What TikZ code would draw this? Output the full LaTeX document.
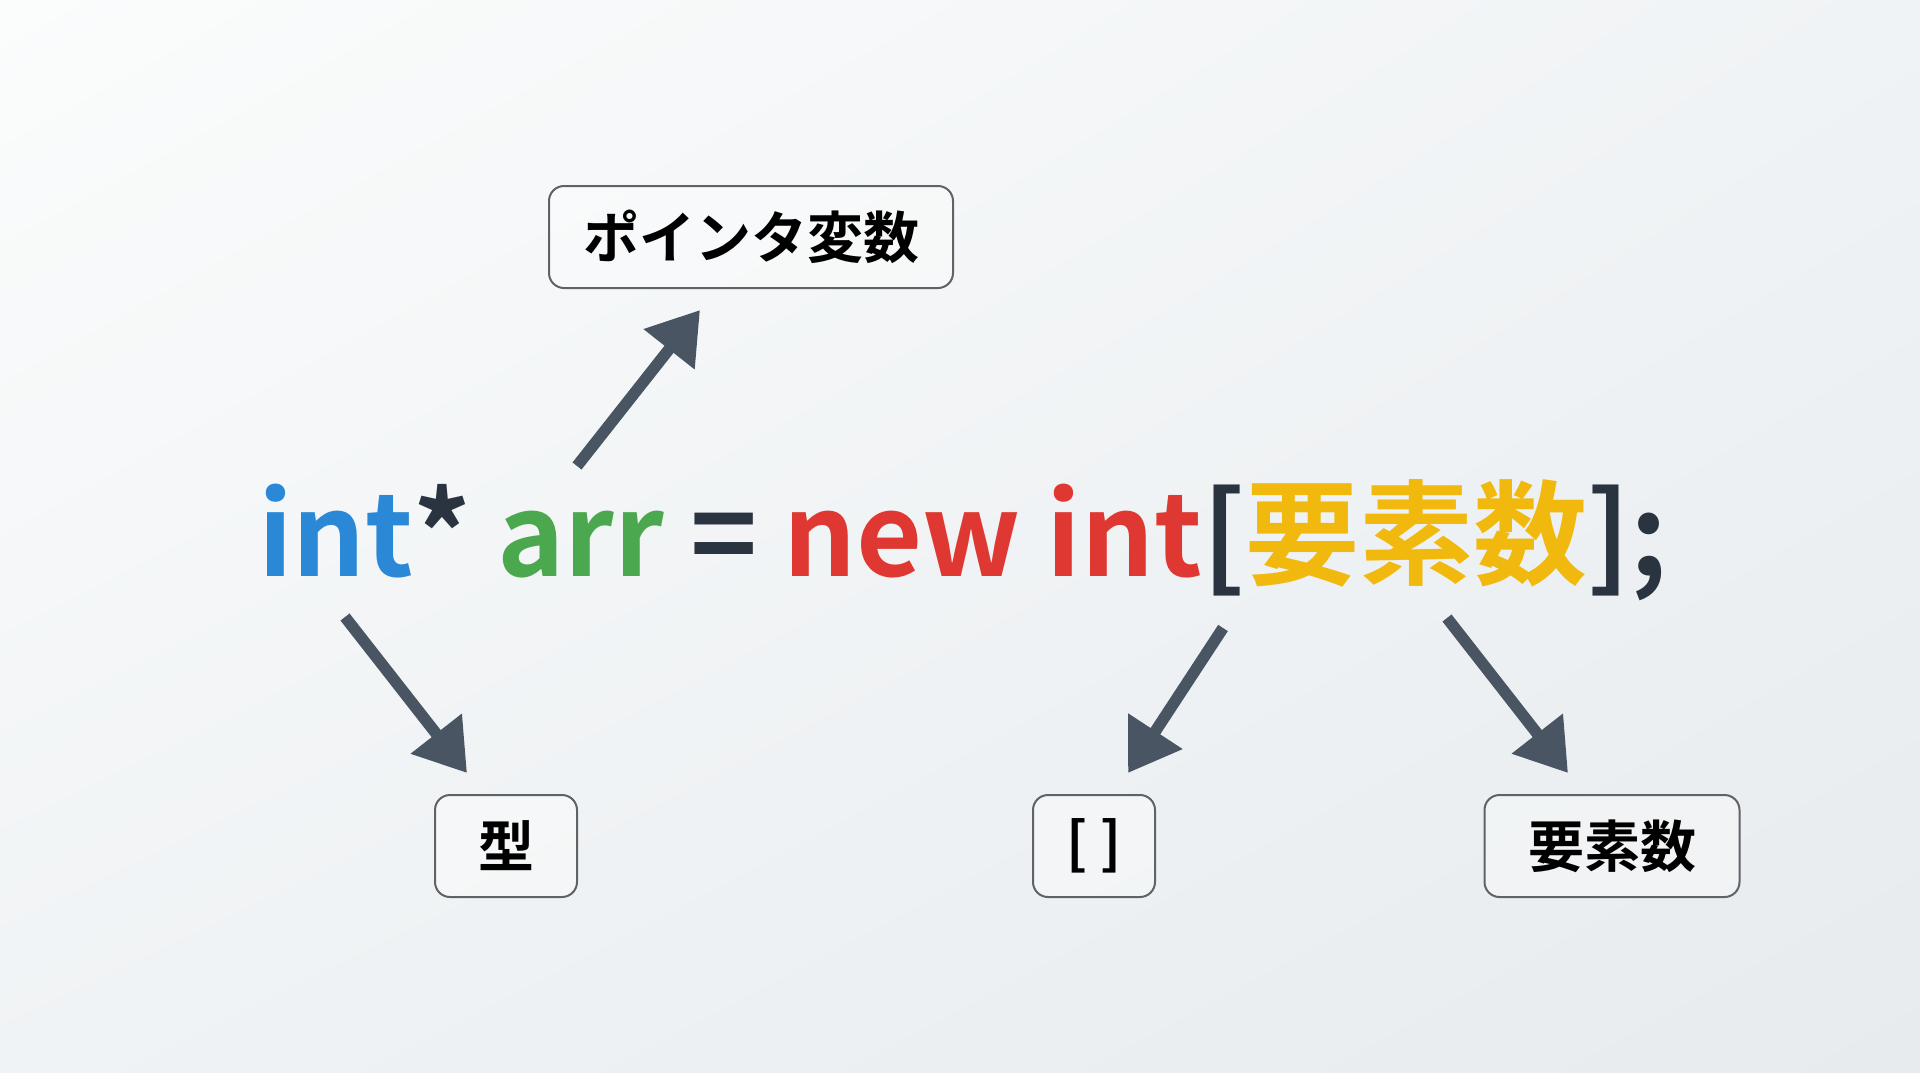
\documentclass[tikz,border=0pt]{standalone}
\usepackage{fontspec}
\setmainfont{Noto Sans CJK JP}[BoldFont={Noto Sans CJK JP Bold}]
\usetikzlibrary{arrows.meta,positioning,shadings}
\usepackage{xcolor}

\definecolor{cint}{HTML}{2A88D6}
\definecolor{carr}{HTML}{4BA84F}
\definecolor{cnew}{HTML}{DF3832}
\definecolor{ccount}{HTML}{F1B80E}
\definecolor{cdark}{HTML}{2A3440}
\definecolor{cline}{HTML}{4A5563}
\definecolor{cbox}{HTML}{5F6368}
\definecolor{bgtop}{HTML}{FBFCFC}
\definecolor{bgmid}{HTML}{F0F3F5}
\definecolor{bglow}{HTML}{E7EBEE}

\begin{document}
\begin{tikzpicture}[x=1pt,y=-1pt,
            tagbox/.style = {draw=cbox, line width=2pt, rounded corners=15pt,
                fill=white, fill opacity=0.35, text opacity=1,
                minimum height=102pt, inner sep=0pt,
                font=\fontsize{56}{60}\selectfont\bfseries},
            pointer/.style = {draw=cline, line width=11.5pt,
                -{Triangle[length=50pt,width=62pt]}},
            codeline/.style = {inner sep=0pt,
                font=\fontsize{114}{120}\selectfont\bfseries}
            ]
            % background
            \useasboundingbox (0,0) rectangle (1920,1072);
            \shade[upper left=bgtop, upper right=bgmid,
                lower left=bgmid, lower right=bglow]
                (0,0) rectangle (1920,1072);

            % the code line
            \node[codeline, anchor=base west] (code) at (258,576)
                {\textcolor{cint}{int}\textcolor{cdark}{*} \textcolor{carr}{arr} \textcolor{cdark}{=} \textcolor{cnew}{new int}\textcolor{cdark}{[}\textcolor{ccount}{要素数}\textcolor{cdark}{];}};

            % labels
            \node[tagbox, minimum width=404pt] (ptr) at (751,237) {ポインタ変数};
            \node[tagbox, minimum width=142pt] (type) at (506,846) {型};
            \node[tagbox, minimum width=122pt] (brk) at (1094,846) {[ ]};
            \node[tagbox, minimum width=255pt] (count) at (1612,846) {要素数};

            % arrow ends
            \coordinate (ptrTail) at (577,466);
            \coordinate (ptrHead) at (700,310);
            \coordinate (typeTail) at (345,617);
            \coordinate (typeHead) at (467,773);
            \coordinate (brkTail) at (1223,628);
            \coordinate (brkHead) at (1128,773);
            \coordinate (countTail) at (1447,618);
            \coordinate (countHead) at (1568,773);

            \draw[pointer] (ptrTail) -- (ptrHead);
            \draw[pointer] (typeTail) -- (typeHead);
            \draw[pointer] (brkTail) -- (brkHead);
            \draw[pointer] (countTail) -- (countHead);
        \end{tikzpicture}
\end{document}
